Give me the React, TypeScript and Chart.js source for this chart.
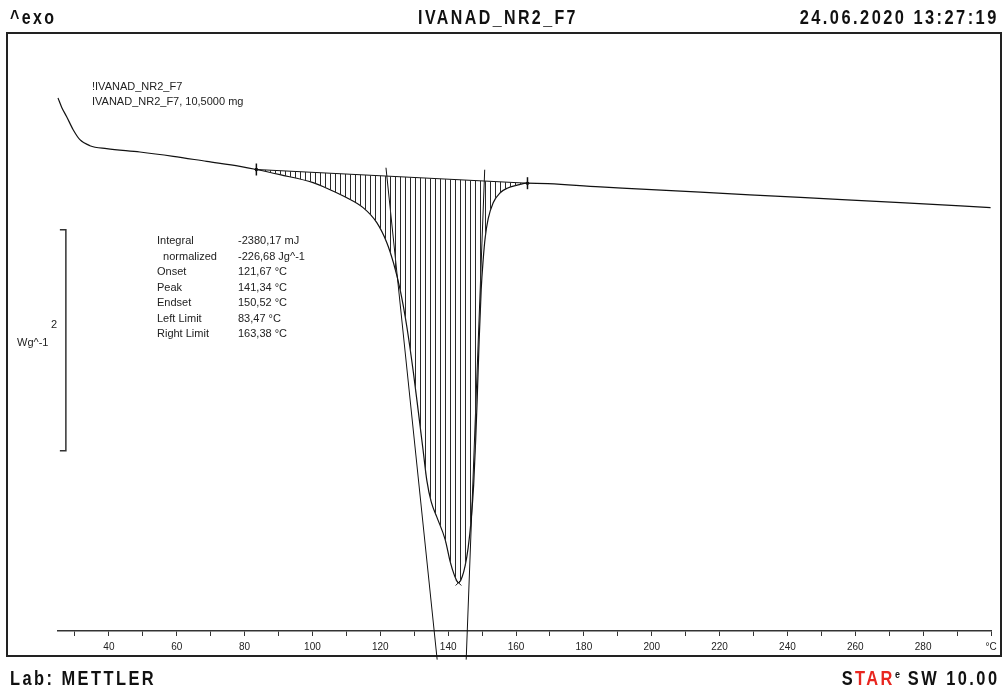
import React, { useEffect, useRef } from "react";
import { Chart, registerables } from "chart.js";

Chart.register(...registerables);

// ---- Data (temperature in °C, heat flow in W/g) ----
const tempC: number[] = [
  25.0, 26.14, 27.52, 29.47, 31.45, 34.4, 39.32, 49.14, 58.97, 68.82, 78.64, 83.47,
  90.44, 100.18, 105.19, 110.12, 114.93, 118.97, 121.92, 123.86, 125.84, 127.82, 129.76,
  131.24, 132.63, 133.72, 134.99, 136.67, 139.12, 140.59, 141.77, 143.04, 144.13, 145.01,
  145.9, 146.78, 147.52, 148.11, 148.55, 149.14, 149.73, 150.32, 150.91, 151.8, 153.27,
  155.34, 157.4, 160.35, 163.38, 184.84, 214.34, 243.83, 273.33, 299.88,
];
const heatFlow: number[] = [
  0.721, 0.633, 0.554, 0.434, 0.344, 0.289, 0.262, 0.232, 0.193, 0.147, 0.102, 0.074,
  0.027, -0.045, -0.109, -0.181, -0.271, -0.407, -0.588, -0.769, -1.013, -1.348, -1.764,
  -2.125, -2.47, -2.74, -2.93, -3.07, -3.274, -3.473, -3.59, -3.663, -3.609, -3.509,
  -3.346, -3.093, -2.777, -2.37, -2.008, -1.465, -1.013, -0.742, -0.543, -0.371, -0.226,
  -0.136, -0.095, -0.068, -0.05, -0.084, -0.131, -0.179, -0.226, -0.271,
];

// integration limits and evaluation results
const leftLimitC = 83.47;
const rightLimitC = 163.38;
const limitTemps: number[] = [83.47, 163.38];
const limitValues: number[] = [0.074, -0.05];
const peakTemp: number[] = [143.04];
const peakValue: number[] = [-3.663];

// onset / endset tangents
const onsetTangentT: number[] = [121.67, 136.76];
const onsetTangentV: number[] = [0.09, -4.359];
const endsetTangentT: number[] = [150.77, 145.31];
const endsetTangentV: number[] = [0.072, -4.359];

// 2 W/g scale bar
const scaleBarT: number[] = [25.55, 27.32, 27.32, 25.55];
const scaleBarV: number[] = [-0.47, -0.47, -2.47, -2.47];

const xTickLabels: number[] = [40, 60, 80, 100, 120, 140, 160, 180, 200, 220, 240, 260, 280];

const resultLabels: string[] = ["Integral", "  normalized", "Onset", "Peak", "Endset", "Left Limit", "Right Limit"];
const resultValues: string[] = ["-2380,17 mJ", "-226,68 Jg^-1", "121,67 °C", "141,34 °C", "150,52 °C", "83,47 °C", "163,38 °C"];

const pts = (xs: number[], ys: number[]) => xs.map((x, i) => ({ x, y: ys[i] }));

const HEAD_FONT = '"Liberation Sans", Arial, sans-serif';
const SMALL_FONT = '"Liberation Sans", Arial, sans-serif';

export default function App() {
  const canvasRef = useRef<HTMLCanvasElement | null>(null);

  useEffect(() => {
    document.body.style.margin = "0";
    const canvas = canvasRef.current;
    if (!canvas) return;
    const ctx = canvas.getContext("2d")!;

    const pc = document.createElement("canvas");
    pc.width = 5;
    pc.height = 4;
    const pctx = pc.getContext("2d")!;
    pctx.fillStyle = "#2a2a2a";
    pctx.fillRect(0, 0, 1, 4);
    const hatch = ctx.createPattern(pc, "repeat")!;

    const curve = pts(tempC, heatFlow);
    const peakSegment = curve.filter((p) => p.x >= leftLimitC - 0.01 && p.x <= rightLimitC + 0.01);

    const lineBase = {
      type: "line" as const,
      pointRadius: 0,
      borderColor: "#111",
      borderWidth: 1.2,
      fill: false,
      tension: 0,
      clip: false as const,
    };

    const chart = new Chart(ctx, {
      type: "line",
      data: {
        datasets: [
          // 0: hatched area (fill to integration baseline)
          {
            ...lineBase,
            data: peakSegment,
            borderWidth: 0,
            borderColor: "rgba(0,0,0,0)",
            backgroundColor: hatch as any,
            fill: 1,
            cubicInterpolationMode: "monotone",
            tension: 0.4,
          } as any,
          // 1: integration baseline
          { ...lineBase, data: pts(limitTemps, limitValues), borderWidth: 1 },
          // 2: DSC curve
          { ...lineBase, data: curve, cubicInterpolationMode: "monotone", tension: 0.4 } as any,
          // 3: onset tangent
          { ...lineBase, data: pts(onsetTangentT, onsetTangentV), borderWidth: 1 },
          // 4: endset tangent
          { ...lineBase, data: pts(endsetTangentT, endsetTangentV), borderWidth: 1 },
          // 5: scale bar
          { ...lineBase, data: pts(scaleBarT, scaleBarV), borderColor: "#333", borderWidth: 1.5 },
          // 6: limit markers
          {
            ...lineBase,
            showLine: false,
            data: pts(limitTemps, limitValues),
            pointStyle: "line",
            rotation: 90,
            pointRadius: 6,
            pointBorderWidth: 1.5,
            pointBorderColor: "#111",
          } as any,
          // 7: limit marker dots
          {
            ...lineBase,
            showLine: false,
            data: pts(limitTemps, limitValues),
            pointStyle: "rectRot",
            pointRadius: 1.8,
            pointBorderWidth: 1,
            pointBorderColor: "#111",
            pointBackgroundColor: "#111",
          } as any,
          // 8: peak marker
          {
            ...lineBase,
            showLine: false,
            data: pts(peakTemp, peakValue),
            pointStyle: "crossRot",
            pointRadius: 4,
            pointBorderWidth: 1,
            pointBorderColor: "#111",
          } as any,
        ],
      },
      options: {
        animation: false,
        responsive: false,
        maintainAspectRatio: false,
        events: [],
        layout: { padding: { left: 58, right: 17, top: 45, bottom: 0 } },
        plugins: {
          legend: { display: false },
          tooltip: { enabled: false },
          title: { display: false },
        },
        scales: {
          x: {
            type: "linear",
            min: 25,
            max: 300,
            afterFit: (s: any) => {
              s.height = 60;
            },
            border: { display: true, color: "#333", width: 1.5 },
            grid: { drawOnChartArea: false, drawTicks: true, tickLength: 5, color: "#333", lineWidth: 1 },
            ticks: {
              stepSize: 10,
              includeBounds: false,
              autoSkip: false,
              maxRotation: 0,
              minRotation: 0,
              padding: 5,
              color: "#222",
              font: { family: SMALL_FONT, size: 10 },
              callback: (v: any) => {
                const n = Number(v);
                if (n === 300) return "°C";
                return xTickLabels.includes(n) ? String(n) : "";
              },
            },
          },
          y: { type: "linear", display: false, min: -4.1, max: 1.2 },
        },
      } as any,
    });
    return () => chart.destroy();
  }, []);

  const head: React.CSSProperties = {
    position: "absolute",
    fontFamily: HEAD_FONT,
    fontWeight: "bold",
    fontSize: 20,
    letterSpacing: 3,
    lineHeight: "20px",
    height: 20,
    color: "#111",
    whiteSpace: "pre",
  };
  const small: React.CSSProperties = {
    position: "absolute",
    fontFamily: SMALL_FONT,
    fontSize: 11,
    lineHeight: "12px",
    color: "#222",
    whiteSpace: "pre",
  };

  return (
    <div style={{ position: "absolute", left: 0, top: 0, width: 1008, height: 691, background: "#fff", overflow: "hidden" }}>
      <div
        style={{
          position: "absolute",
          left: 6,
          top: 32,
          width: 996,
          height: 625,
          boxSizing: "border-box",
          border: "2px solid #222",
        }}
      />
      <canvas ref={canvasRef} width={1008} height={691} style={{ position: "absolute", left: 0, top: 0, display: "block" }} />
      <div style={{ ...head, left: 10, top: 7, transform: "scaleX(0.8)", transformOrigin: "left center" }}>^exo</div>
      <div style={{ ...head, left: 498, top: 7, transform: "translateX(-50%) scaleX(0.8)", transformOrigin: "center center" }}>
        IVANAD_NR2_F7
      </div>
      <div style={{ ...head, right: 9, top: 7, transform: "scaleX(0.82)", transformOrigin: "right center" }}>
        24.06.2020 13:27:19
      </div>
      <div style={{ ...head, left: 10, top: 668, transform: "scaleX(0.82)", transformOrigin: "left center" }}>Lab: METTLER</div>
      <div style={{ ...head, right: 9, top: 668, transform: "scaleX(0.82)", transformOrigin: "right center" }}>
        <span>S</span>
        <span style={{ color: "#e8261f" }}>TAR</span>
        <span style={{ fontSize: 11, position: "relative", top: -7, lineHeight: "0px", letterSpacing: 1 }}>e</span>
        <span> SW 10.00</span>
      </div>

      <div style={{ ...small, left: 92, top: 80 }}>!IVANAD_NR2_F7</div>
      <div style={{ ...small, left: 92, top: 95 }}>IVANAD_NR2_F7, 10,5000 mg</div>

      {resultLabels.map((t, i) => (
        <div key={"l" + i} style={{ ...small, left: 157, top: 234 + i * 15.5 }}>{t}</div>
      ))}
      {resultValues.map((t, i) => (
        <div key={"v" + i} style={{ ...small, left: 238, top: 234 + i * 15.5 }}>{t}</div>
      ))}

      <div style={{ ...small, left: 51, top: 318 }}>2</div>
      <div style={{ ...small, left: 17, top: 336 }}>Wg^-1</div>
    </div>
  );
}
